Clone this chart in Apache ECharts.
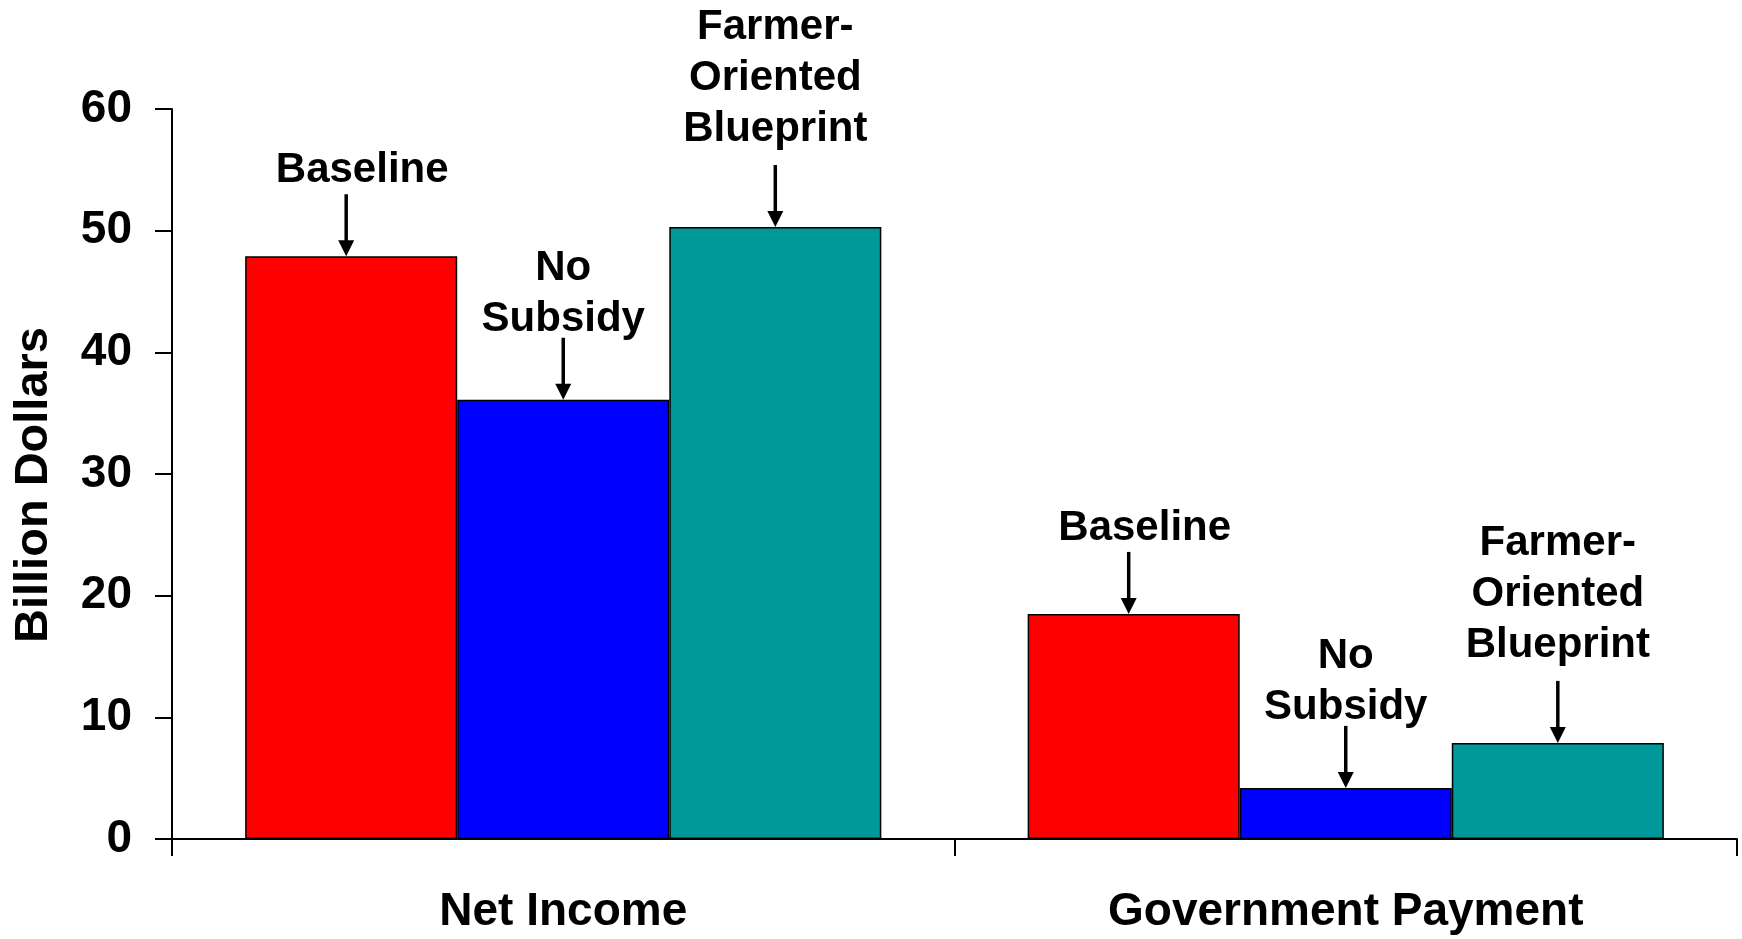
<!DOCTYPE html>
<html>
<head>
<meta charset="utf-8">
<script src="https://cdn.jsdelivr.net/npm/echarts@6/dist/echarts.min.js"></script>
<style>
    html, body {margin: 0; padding: 0; background: #fff;}
    #main {width: 1742px; height: 939px;}
</style>
</head>
<body>
<div id="main"></div>
<script>
// ------------------ data ------------------
const categories = ['Net Income', 'Government Payment'];
const scenarios = ['Baseline', 'No\nSubsidy', 'Farmer-\nOriented\nBlueprint'];
const baseline = [47.9, 18.5];
const noSubsidy = [36.1, 4.2];
const farmerBlueprint = [50.3, 7.9];
const yTicks = [0, 10, 20, 30, 40, 50, 60];

// ------------------ style ------------------
const COLORS = ['#ff0000', '#0000ff', '#009999'];
const FONT = 'Liberation Sans, Arial, sans-serif';
const CAT_GAP = 0.187; // barCategoryGap
const ARROW_LEN = 62;
const TEXT_SHIFT = [4, 9, -8]; // label nudge (px, down) per scenario
const TEXT_DX = [16, 0, 0];    // label nudge (px, right) per scenario
const ARROW_DX = [-5, 0, 0];   // arrow nudge (px, right) per scenario

let seriesValues = [baseline, noSubsidy, farmerBlueprint];

// annotation points: [categoryIndex, value, seriesIndex]
let notes = [];
for (let c = 0; c < categories.length; c++) {
    for (let s = 0; s < seriesValues.length; s++) {
        notes.push([c, seriesValues[s][c], s]);
    }
}

function renderNote(params, api) {
    let c = api.value(0), v = api.value(1), s = api.value(2);
    let pt = api.coord([c, v]);
    let band = api.size([1, 0])[0];
    let barW = band * (1 - CAT_GAP) / seriesValues.length;
    let x = pt[0] + (s - (seriesValues.length - 1) / 2) * barW + ARROW_DX[s];
    let y = pt[1];
    let top = y - ARROW_LEN;
    return {
        type: 'group',
        children: [
            {
                type: 'line',
                shape: {x1: x, y1: top, x2: x, y2: y - 12},
                style: {stroke: '#000', lineWidth: 3.5}
            },
            {
                type: 'polygon',
                shape: {points: [[x - 8, y - 16], [x + 8, y - 16], [x, y]]},
                style: {fill: '#000'}
            },
            {
                type: 'text',
                x: x + TEXT_DX[s],
                y: top - 2 + TEXT_SHIFT[s],
                style: {
                    text: scenarios[s],
                    fill: '#000',
                    font: 'bold 42px ' + FONT,
                    lineHeight: 51,
                    align: 'center',
                    verticalAlign: 'bottom'
                }
            }
        ]
    };
}

let myChart = echarts.init(document.getElementById('main'));

let barStyle = function (i) {
    return {color: COLORS[i], borderColor: '#000', borderWidth: 1.5};
};

let option = {
    animation: false,
    backgroundColor: '#fff',
    grid: {left: 172, right: 5, top: 109, bottom: 100, containLabel: false},
    xAxis: {
        type: 'category',
        data: categories,
        axisLine: {lineStyle: {color: '#000', width: 2}},
        axisTick: {show: true, length: 17, lineStyle: {color: '#000', width: 2}},
        axisLabel: {
            color: '#000',
            fontFamily: FONT,
            fontWeight: 'bold',
            fontSize: 46,
            margin: 50
        }
    },
    yAxis: {
        type: 'value',
        min: yTicks[0],
        max: yTicks[yTicks.length - 1],
        interval: yTicks[1] - yTicks[0],
        name: 'Billion Dollars',
        nameLocation: 'middle',
        nameGap: 114,
        nameTextStyle: {
            color: '#000', fontFamily: FONT, fontWeight: 'bold', fontSize: 47,
            padding: [0, 22, 0, 0]
        },
        splitLine: {show: false},
        axisLine: {show: true, lineStyle: {color: '#000', width: 2}},
        axisTick: {show: true, length: 17, lineStyle: {color: '#000', width: 2}},
        axisLabel: {
            color: '#000',
            fontFamily: FONT,
            fontWeight: 'bold',
            fontSize: 46,
            margin: 40
        }
    },
    series: [
        {
            name: 'Baseline', type: 'bar', data: baseline,
            barGap: 0, barCategoryGap: (CAT_GAP * 100) + '%',
            itemStyle: barStyle(0)
        },
        {
            name: 'No Subsidy', type: 'bar', data: noSubsidy,
            barGap: 0, barCategoryGap: (CAT_GAP * 100) + '%',
            itemStyle: barStyle(1)
        },
        {
            name: 'Farmer-Oriented Blueprint', type: 'bar', data: farmerBlueprint,
            barGap: 0, barCategoryGap: (CAT_GAP * 100) + '%',
            itemStyle: barStyle(2)
        },
        {
            name: 'notes', type: 'custom', data: notes,
            renderItem: renderNote,
            encode: {x: 0, y: 1},
            z: 10,
            silent: true
        }
    ]
};

if (option && typeof option === "object") {
    myChart.setOption(option, true);
}
</script>
</body>
</html>
